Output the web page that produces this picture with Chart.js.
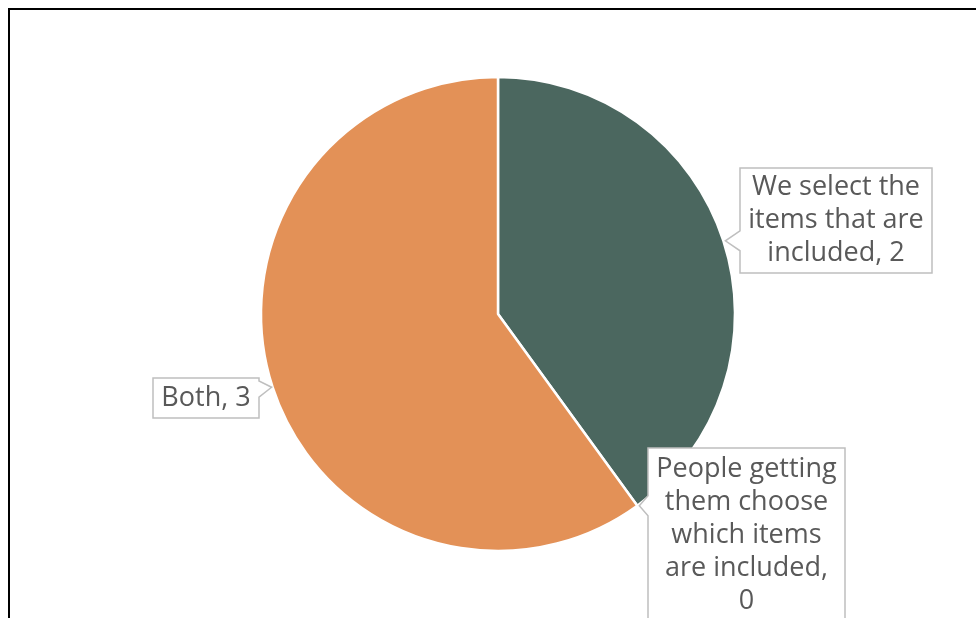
<!DOCTYPE html>
<html>
<head>
<meta charset="utf-8">
<script src="https://cdn.jsdelivr.net/npm/chart.js@4"></script>
<style>
  html, body { margin: 0; padding: 0; background: #fff; overflow: hidden; }
  #frame { position: absolute; left: 8px; top: 8px; width: 1100px; height: 700px;
           border-top: 2px solid #000; border-left: 2px solid #000; }
  #wrap { position: absolute; left: 0; top: 0; width: 976px; height: 618px; }
</style>
</head>
<body>
<div id="frame"></div>
<div id="wrap"><canvas id="chart"></canvas></div>
<script>
const categories = ["We select the items that are included",
                    "People getting them choose which items are included",
                    "Both"];
const values = [2, 0, 3];
const colors = ["#4b675f", "#4b675f", "#e39157"];

// callout boxes (layout only), side = where the pointer leaves the box
const boxes = [
    {x: 740, y: 168, w: 192, h: 105, side: 'left', wrap: 184},
    {x: 648, y: 448, w: 197, h: 174, side: 'left', wrap: 182},
    {x: 153, y: 378, w: 106, h: 40, side: 'right', wrap: 200}
];

function wrapText(ctx, text, maxW) {
    const words = text.split(" ");
    const lines = [];
    let cur = "";
    for (const w of words) {
        const test = cur ? cur + " " + w : w;
        if (ctx.measureText(test).width > maxW && cur) {
            lines.push(cur);
            cur = w;
        } else {
            cur = test;
        }
    }
    if (cur) lines.push(cur);
    return lines;
}

const calloutPlugin = {
    id: 'callouts',
    afterDatasetsDraw(chart) {
        const ctx = chart.ctx;
        const meta = chart.getDatasetMeta(0);
        ctx.save();
        ctx.font = "27px 'Open Sans'";
        meta.data.forEach((arc, i) => {
            const p = arc.getProps(['x', 'y', 'startAngle', 'endAngle', 'outerRadius'], true);
            const mid = (p.startAngle + p.endAngle) / 2;
            const tx = p.x + Math.cos(mid) * p.outerRadius;
            const ty = p.y + Math.sin(mid) * p.outerRadius;
            const b = boxes[i];
            const half = 10;
            const y1 = Math.max(b.y + 3, ty - half);
            const y2 = Math.min(b.y + b.h - 3, ty + half);

            ctx.beginPath();
            if (b.side === 'left') {
                ctx.moveTo(b.x, b.y);
                ctx.lineTo(b.x + b.w, b.y);
                ctx.lineTo(b.x + b.w, b.y + b.h);
                ctx.lineTo(b.x, b.y + b.h);
                ctx.lineTo(b.x, y2);
                ctx.lineTo(tx + 2, ty);
                ctx.lineTo(b.x, y1);
            } else {
                ctx.moveTo(b.x, b.y);
                ctx.lineTo(b.x + b.w, b.y);
                ctx.lineTo(b.x + b.w, y1);
                ctx.lineTo(tx - 1, ty);
                ctx.lineTo(b.x + b.w, y2);
                ctx.lineTo(b.x + b.w, b.y + b.h);
                ctx.lineTo(b.x, b.y + b.h);
            }
            ctx.closePath();
            ctx.fillStyle = "#fff";
            ctx.fill();
            ctx.strokeStyle = "#bfbfbf";
            ctx.lineWidth = 1.5;
            ctx.stroke();

            const lines = wrapText(ctx, categories[i] + ", " + values[i], b.wrap);
            const lh = 33;
            ctx.fillStyle = "#595959";
            ctx.textAlign = "center";
            ctx.textBaseline = "middle";
            const cy = b.y + b.h / 2;
            lines.forEach((ln, k) => {
                ctx.fillText(ln, b.x + b.w / 2, cy + (k - (lines.length - 1) / 2) * lh);
            });
        });
        ctx.restore();
    }
};

new Chart(document.getElementById('chart').getContext('2d'), {
    type: 'pie',
    data: {
        labels: categories,
        datasets: [{
            data: values,
            backgroundColor: colors,
            borderColor: "#ffffff",
            borderWidth: 2.5,
            radius: 237
        }]
    },
    options: {
        responsive: true,
        maintainAspectRatio: false,
        animation: false,
        layout: { padding: { left: 20, right: 0, top: 10, bottom: 0 } },
        plugins: {
            legend: { display: false },
            tooltip: { enabled: false }
        }
    },
    plugins: [calloutPlugin]
});
</script>
</body>
</html>
